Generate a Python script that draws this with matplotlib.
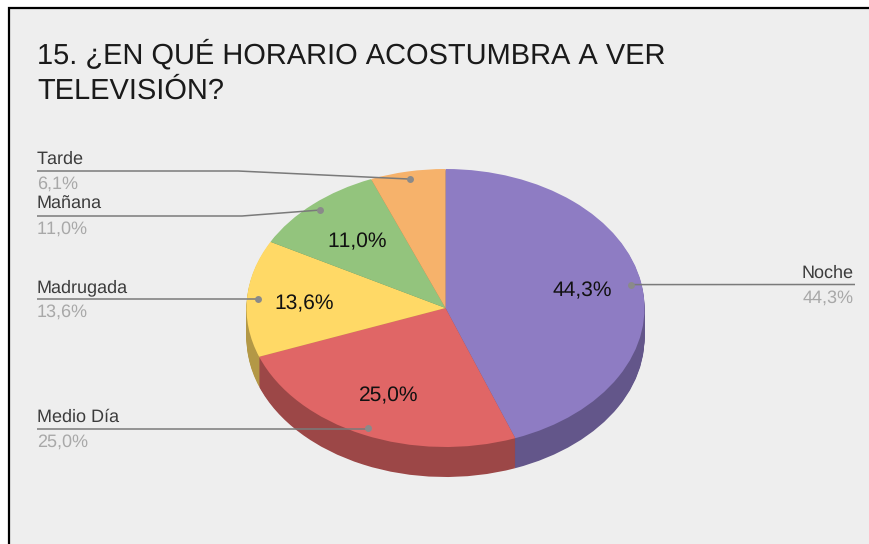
import numpy as np
import matplotlib
matplotlib.use("Agg")
import matplotlib.pyplot as plt
from matplotlib.patches import Rectangle

plt.rcParams["text.hinting"] = "no_hinting"
plt.rcParams["text.hinting_factor"] = 1
plt.rcParams["text.kerning_factor"] = 12

# Data
categories = ["Noche", "Medio Día", "Madrugada", "Mañana", "Tarde"]
values = [44.3, 25.0, 13.6, 11.0, 6.1]
value_labels = ["44,3%", "25,0%", "13,6%", "11,0%", "6,1%"]
title_lines = ["15. ¿EN QUÉ HORARIO ACOSTUMBRA A VER", "TELEVISIÓN?"]

# Styles
colors = ["#8E7CC3", "#E06666", "#FFD966", "#93C47D", "#F6B26B"]
side_colors = ["#63568A", "#9C4747", "#B39846", "#678957", "#AC7C4B"]
W, H = 870, 544
CX, CY, RX, RY, DEPTH = 445.5, 308, 199, 139, 30
K = RY / RX
FONT = "Liberation Sans"

def Y(py):
    return -py / K

fig = plt.figure(figsize=(W / 100, H / 100), dpi=100, facecolor="white")
ax = fig.add_axes([0, 0, 1, 1])

# 3D side: stacked pies, then top
for d in np.arange(DEPTH, 0, -1.0):
    ax.pie(values, colors=side_colors, startangle=90, counterclock=False,
           center=(CX, Y(CY + d)), radius=RX, wedgeprops={"linewidth": 0},
           normalize=True)
ax.pie(values, colors=colors, startangle=90, counterclock=False,
       center=(CX, Y(CY)), radius=RX, wedgeprops={"linewidth": 0}, normalize=True)

ax.set_aspect("auto")
ax.set_xlim(0, W)
ax.set_ylim(Y(H), Y(0))
ax.axis("off")

# Card background and image border
ax.add_patch(Rectangle((9, Y(H + 5)), W + 5, Y(8) - Y(H + 5), facecolor="#EEEEEE",
                       edgecolor="black", linewidth=1.6, zorder=0))

fracs = np.array(values) / sum(values)
mids = 2 * np.pi * (np.cumsum(fracs) - fracs / 2)

def on_pie(theta, r):
    return CX + RX * r * np.sin(theta), CY - RY * r * np.cos(theta)

# Inner percentages (label placement nudges in pixels)
nudges = [(-2, 0), (2, -2), (0, 3), (6, 7)]
for m, lab, (nx, ny) in zip(mids[:4], value_labels[:4], nudges):
    x, y = on_pie(m, 0.71)
    ax.text(x + nx, Y(y + ny), lab, ha="center", va="center", fontsize=14.8,
            family=FONT, color="#111111", zorder=5)

# Leaders and outer labels
leader_y = {"Noche": 284.5, "Medio Día": 429, "Madrugada": 299, "Mañana": 216, "Tarde": 171}
elbow_x = {"Mañana": 242, "Tarde": 238}
LINE = "#7A7A7A"
for name, m, lab in zip(categories, mids, value_labels):
    dx, dy = on_pie(m, 0.945)
    ly = leader_y[name]
    if name == "Noche":
        xs = [dx, 855]
        ys = [dy, ly]
        tx, ha = 854, "right"
    else:
        ex = elbow_x.get(name, dx)
        xs = [37, ex, dx]
        ys = [ly, ly, dy]
        tx, ha = 37, "left"
    ax.plot(xs, [Y(v) for v in ys], color=LINE, lw=1.1, zorder=4, solid_capstyle="butt")
    ax.plot([dx], [Y(dy)], "o", ms=5, color="#8A8A8A", mew=0, zorder=4)
    ax.text(tx, Y(ly - 7), name, ha=ha, va="baseline", fontsize=13, family=FONT,
            color="#3C3C3C", zorder=5)
    ax.text(tx, Y(ly + 18), lab, ha=ha, va="baseline", fontsize=13, family=FONT,
            color="#A8A8A8", zorder=5)

for line, base in zip(title_lines, [64, 99]):
    ax.text(37.5, Y(base), line, ha="left", va="baseline", fontsize=21, family=FONT,
            color="#1A1A1A", zorder=5)

fig.savefig("out.png", dpi=100, facecolor="white")
